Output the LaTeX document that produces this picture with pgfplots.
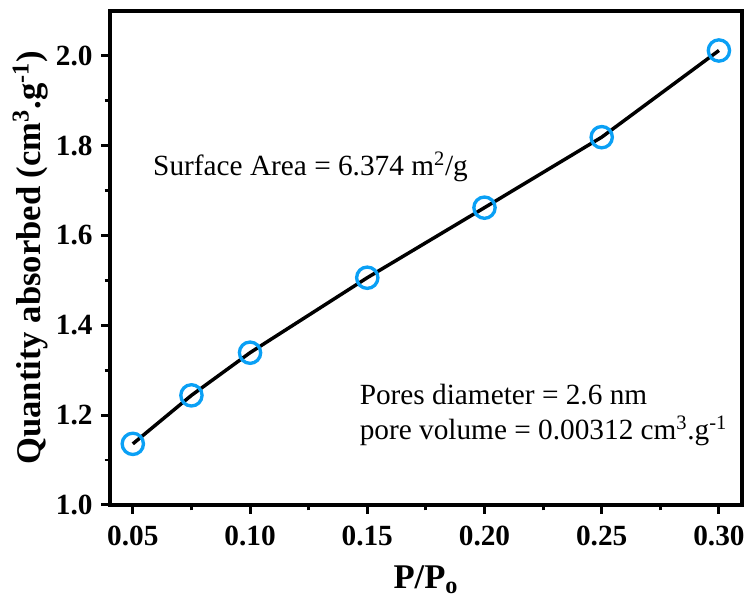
\documentclass[border=0pt]{standalone}
\usepackage{fontspec}
\setmainfont{Liberation Serif}
\usepackage{pgfplots}
\pgfplotsset{compat=1.18}
\definecolor{mkblue}{RGB}{10,160,245}

\begin{document}
\begin{tikzpicture}
\begin{axis}[
    scale only axis,
    width=474.75pt, height=371pt,
    xmin=0.0402, xmax=0.3098,
    ymin=1.0, ymax=2.1,
    xtick={0.05,0.10,...,0.30},
    ytick={1.0,1.2,...,2.0},
    minor x tick num=1,
    minor y tick num=1,
    xticklabel style={yshift=-6pt, /pgf/number format/.cd,fixed,fixed zerofill,precision=2},
    yticklabel style={xshift=-3pt, /pgf/number format/.cd,fixed,fixed zerofill,precision=1},
    /pgf/number format/assume math mode=true,
    ticklabel style={font=\fontsize{22}{24}\selectfont\bfseries},
    tick align=outside,
    tick pos=left,
    major tick length=6.5pt,
    minor tick length=4pt,
    every tick/.style={black, line width=2.2pt},
    axis line style={line width=2.8pt},
    xlabel={\textbf{P/P\textsubscript{o}}},
    ylabel={\textbf{Quantity absorbed (cm\textsuperscript{3}.g\textsuperscript{-1})}},
    every axis x label/.style={at={([yshift=-63pt]rel axis cs:0.5,0)}, anchor=base,
        font=\fontsize{26}{28}\selectfont},
    every axis y label/.style={at={([xshift=-52pt]rel axis cs:0,0.5)}, rotate=90, anchor=base,
        font=\fontsize{26}{28}\selectfont},
]
\addplot[black, line width=2.6pt, mark=o,
    mark size=8pt,
    mark options={draw=mkblue, fill=white, line width=2.5pt}]
  coordinates {
    (0.05,1.136) (0.075,1.244) (0.10,1.339) (0.15,1.506)
    (0.20,1.662) (0.25,1.819) (0.30,2.012)
  };
\node[anchor=base west, inner sep=0pt, font=\fontsize{22}{26}\selectfont] at (axis cs:0.0586,1.733)
  {Surface Area = 6.374 m\textsuperscript{2}/g};
\node[anchor=base west, inner sep=0pt, font=\fontsize{22}{26}\selectfont] at (axis cs:0.1467,1.223)
  {Pores diameter = 2.6 nm};
\node[anchor=base west, inner sep=0pt, font=\fontsize{22}{26}\selectfont] at (axis cs:0.1467,1.145)
  {pore volume = 0.00312 cm\textsuperscript{3}.g\textsuperscript{-1}};
\coordinate (bl) at (rel axis cs:0,0);
\coordinate (tr) at (rel axis cs:1,1);
\end{axis}
\path ([shift={(-82.5pt,-70.5pt)}]bl) rectangle ([shift={(4.5pt,8.25pt)}]tr);
\end{tikzpicture}
\end{document}
